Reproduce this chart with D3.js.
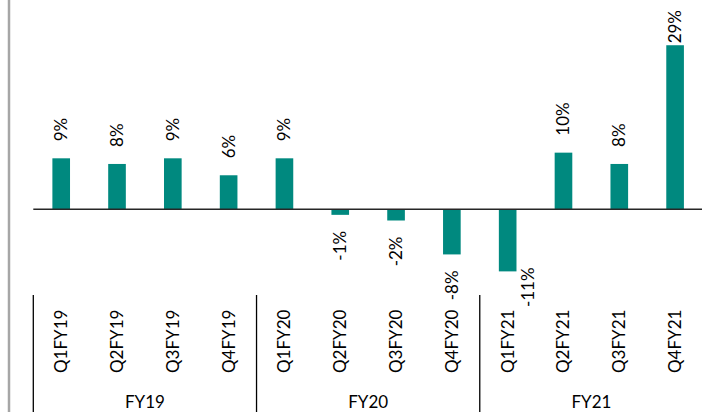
<!DOCTYPE html>
<html>
<head>
<meta charset="utf-8">
<script src="https://cdn.jsdelivr.net/npm/d3@7"></script>
<style>
    body { margin: 0; background: #fff; }
    svg { display: block; font-family: Lato, "Open Sans", sans-serif; }
</style>
</head>
<body>
<svg id="chart" width="702" height="412"></svg>
<script>
// quarterly growth, grouped by financial year
let quarters = ["Q1FY19", "Q2FY19", "Q3FY19", "Q4FY19",
    "Q1FY20", "Q2FY20", "Q3FY20", "Q4FY20",
    "Q1FY21", "Q2FY21", "Q3FY21", "Q4FY21"];
let growth = [9, 8, 9, 6, 9, -1, -2, -8, -11, 10, 8, 29];
let years = ["FY19", "FY20", "FY21"];
let quartersPerYear = 4;

// label that was dragged away from its bar in the original
let labelNudge = {"Q1FY21": [20, -20]};

let svg = d3.select("#chart"),
    width = +svg.attr("width"),
    height = +svg.attr("height");

let barColor = "#00897f";
let fontSize = 17;
let plotLeft = 33.3;

let x = d3.scaleBand()
    .domain(quarters)
    .range([plotLeft, 703])
    .paddingInner(0.684)
    .paddingOuter(0.342);
let step = x.step();
let groupStart = function (i) {
    return plotLeft + i * quartersPerYear * step;
};

let y = d3.scaleLinear().domain([-15, 37]).range([294, 0]);

// gray frame line on the left
svg.append("line")
    .attr("x1", 9).attr("x2", 9)
    .attr("y1", 0).attr("y2", height)
    .attr("stroke", "#a6a6a6")
    .attr("stroke-width", 2.5);

// bars
svg.append("g")
    .selectAll("rect")
    .data(quarters)
    .enter()
    .append("rect")
    .attr("x", function (d) { return x(d); })
    .attr("width", x.bandwidth())
    .attr("y", function (d, i) { return y(Math.max(0, growth[i])); })
    .attr("height", function (d, i) { return Math.abs(y(growth[i]) - y(0)); })
    .attr("fill", barColor);

// zero line
svg.append("line")
    .attr("x1", plotLeft).attr("x2", width)
    .attr("y1", y(0)).attr("y2", y(0))
    .attr("stroke", "#262626")
    .attr("stroke-width", 1.5);

// value labels, rotated
svg.append("g")
    .selectAll("text")
    .data(quarters)
    .enter()
    .append("text")
    .attr("font-size", fontSize)
    .attr("fill", "#000")
    .text(function (d, i) { return growth[i] + "%"; })
    .each(function (d, i) {
        let t = d3.select(this);
        let len = this.getComputedTextLength();
        let nudge = labelNudge[d] || [0, 0];
        let cx = x(d) + x.bandwidth() / 2 + 6 + nudge[0];
        let ty;
        if (growth[i] >= 0) {
            ty = Math.max(10, y(growth[i]) - 17 - len);
        } else {
            ty = y(growth[i]) + 16;
        }
        ty += nudge[1];
        t.attr("text-anchor", "end")
            .attr("transform", "translate(" + cx + "," + ty + ") rotate(-90)");
    });

// category labels
svg.append("g")
    .selectAll("text")
    .data(quarters)
    .enter()
    .append("text")
    .attr("font-size", fontSize)
    .attr("fill", "#000")
    .attr("text-anchor", "start")
    .attr("transform", function (d) {
        return "translate(" + (x(d) + x.bandwidth() / 2 + 6) + ",373) rotate(-90)";
    })
    .text(function (d) { return d; });

// group dividers
svg.append("g")
    .selectAll("line")
    .data(d3.range(years.length + 1))
    .enter()
    .append("line")
    .attr("x1", function (d) { return groupStart(d); })
    .attr("x2", function (d) { return groupStart(d); })
    .attr("y1", 295)
    .attr("y2", height)
    .attr("stroke", "#000")
    .attr("stroke-width", 1.3);

// group labels
svg.append("g")
    .selectAll("text")
    .data(years)
    .enter()
    .append("text")
    .attr("font-size", fontSize)
    .attr("fill", "#000")
    .attr("text-anchor", "middle")
    .attr("x", function (d, i) { return (groupStart(i) + groupStart(i + 1)) / 2; })
    .attr("y", 408)
    .text(function (d) { return d; });
</script>
</body>
</html>
